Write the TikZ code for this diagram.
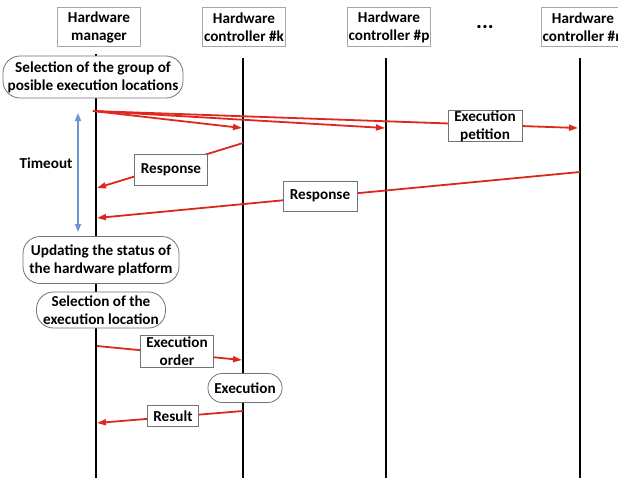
\documentclass[tikz,border=0pt]{standalone}
\usepackage{fontspec}
\setmainfont{Carlito}
\usetikzlibrary{arrows.meta}
\definecolor{myred}{RGB}{222,40,30}
\definecolor{myblue}{RGB}{110,150,210}
\tikzset{
  txt/.style={font=\fontsize{15.2}{18}\selectfont\bfseries, align=center, inner sep=0pt},
  headbox/.style={txt, draw=black!35, fill=white, line width=0.8pt, minimum width=83, minimum height=39},
  procbox/.style={txt, draw=black!55, fill=white, line width=0.8pt, rounded corners=17},
  labbox/.style={txt, draw=black!55, fill=white, line width=0.8pt},
  life/.style={line width=2.5pt, black},
  msg/.style={line width=1.8pt, myred, -{Triangle[length=9pt,width=6pt]}},
}
\begin{document}
\begin{tikzpicture}[x=1pt,y=-1pt]
\useasboundingbox (0,0) rectangle (618,477);
\clip (0,0) rectangle (618,477);
\fill[white] (0,0) rectangle (618,477);
% headers
\node[headbox] (hm) at (99,27) {Hardware\\manager};
\node[headbox] (hk) at (244,27) {Hardware\\controller \#k};
\node[headbox] (hp) at (389,27) {Hardware\\controller \#p};
\node[headbox] (hn) at (583,27) {Hardware\\controller \#n};
\node[txt, font=\fontsize{22}{22}\selectfont\bfseries] (dots) at (485,27) {...};
% lifeline coordinates
\coordinate (mtop) at (96,54);
\coordinate (mbot) at (96,478);
\coordinate (ktop) at (243,58);
\coordinate (kbot) at (243,478);
\coordinate (ptop) at (386,58);
\coordinate (pbot) at (386,478);
\coordinate (ntop) at (580,58);
\coordinate (nbot) at (580,478);
\draw[life] (mtop) -- (mbot);
\draw[life] (ktop) -- (kbot);
\draw[life] (ptop) -- (pbot);
\draw[life] (ntop) -- (nbot);
% process boxes
\node[procbox, minimum width=180, minimum height=42] (sel) at (93,77) {Selection of the group of\\posible execution locations};
\node[procbox, minimum width=156, minimum height=47] (upd) at (101,260) {Updating the status of\\the hardware platform};
\node[procbox, minimum width=129, minimum height=36] (selx) at (101,310) {Selection of the\\execution location};
\node[procbox, minimum width=74, minimum height=29, rounded corners=14] (exe) at (245,388) {Execution};
% timeout
\coordinate (t1) at (78,113);
\coordinate (t2) at (78,232);
\draw[myblue, line width=1.6pt, {Triangle[length=8pt,width=6pt]}-{Triangle[length=8pt,width=6pt]}] (t1) -- (t2);
\node[txt] (tout) at (46,163) {Timeout};
% petitions
\coordinate (o) at (93,111);
\coordinate (k1) at (242,128);
\coordinate (p1) at (385,128);
\coordinate (n1) at (578,128);
\draw[msg] (o) -- (k1);
\draw[msg] (o) -- (p1);
\draw[msg] (o) -- (n1);
\node[labbox, minimum width=74, minimum height=31] (pet) at (485,126) {Execution\\petition};
% responses
\coordinate (k2) at (243,143);
\coordinate (m2) at (97,188);
\draw[msg] (k2) -- (m2);
\node[labbox, minimum width=73, minimum height=31] (r1) at (171,170) {Response};
\coordinate (n2) at (580,172);
\coordinate (m3) at (97,218);
\draw[msg] (n2) -- (m3);
\node[labbox, minimum width=74, minimum height=30] (r2) at (320,196) {Response};
% order
\coordinate (m4) at (97,346);
\coordinate (k4) at (242,360);
\draw[msg] (m4) -- (k4);
\node[labbox, minimum width=73, minimum height=32] (ord) at (177,351) {Execution\\order};
% result
\coordinate (k5) at (243,411);
\coordinate (m5) at (97,423);
\draw[msg] (k5) -- (m5);
\node[labbox, minimum width=51, minimum height=21] (res) at (173,416) {Result};
\end{tikzpicture}
\end{document}
